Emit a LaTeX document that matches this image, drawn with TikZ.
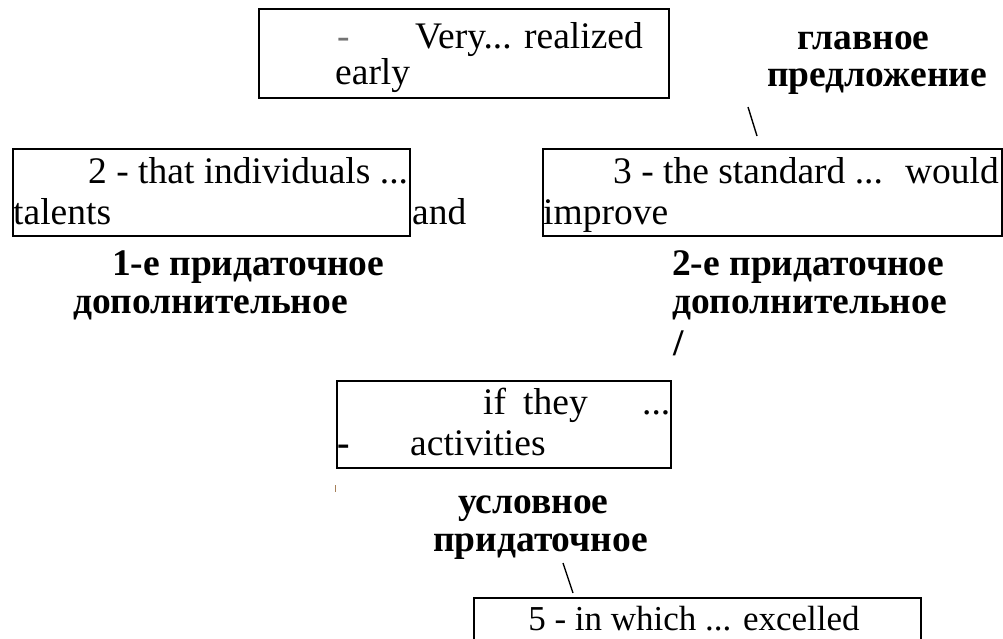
\documentclass[tikz,border=0pt]{standalone}
\usepackage{fontspec}
\setmainfont{Liberation Serif}
\tikzset{
  box/.style={draw, line width=2pt, anchor=north west, inner sep=0pt},
  txt/.style={anchor=base west, inner sep=0pt, font=\fontsize{37.5}{41}\selectfont},
  lbl/.style={anchor=base west, inner sep=0pt, font=\fontsize{37.5}{41}\selectfont\bfseries},
  slash/.style={line width=1.4pt}
}
\begin{document}
\begin{tikzpicture}[x=1pt,y=-1pt]
\useasboundingbox (0,0) rectangle (1003,639);
% boxes
\node[box, minimum width=410pt, minimum height=89pt] (b1) at (258,8) {};
\node[box, minimum width=397pt, minimum height=87pt] (b2) at (12,148) {};
\node[box, minimum width=459pt, minimum height=87pt] (b3) at (542,148) {};
\node[box, minimum width=334pt, minimum height=87pt] (b4) at (336,380) {};
\node[box, minimum width=447pt, minimum height=60pt] (b5) at (473,597) {};
% box 1 text
\node[txt, text=black!55] (t1a) at (337,49) {-};
\node[txt] (t1b) at (415,49) {Very... realized};
\node[txt] (t1c) at (335,85) {early};
% main clause label
\node[lbl] (l0a) at (797,50) {главное};
\node[lbl] (l0b) at (767,87) {предложение};
\coordinate (s1a) at (748,107);
\coordinate (s1b) at (757,136);
\draw[slash] (s1a) -- (s1b);
% box 2
\node[txt] (t2a) at (88,184) {2 - that individuals ...};
\node[txt] (t2b) at (13,224) {talents};
\node[txt] (t2c) at (412,224) {and};
% box 3
\node[txt] (t3a) at (613,184) {3 - the standard ...};
\node[txt, anchor=base east] (t3c) at (999,184) {would};
\node[txt] (t3b) at (543,224) {improve};
% labels
\node[lbl] (l1a) at (112,275) {1-е придаточное};
\node[lbl] (l1b) at (73,313) {дополнительное};
\node[lbl] (l2a) at (672,275) {2-е придаточное};
\node[lbl] (l2b) at (672,313) {дополнительное};
\node[lbl] (l2c) at (673,355) {/};
% box 4
\node[txt] (t4a) at (483,414) {if};
\node[txt] (t4b) at (523,414) {they};
\node[txt] (t4c) at (642,414) {...};
\node[lbl] (t4d) at (337,455) {-};
\node[txt] (t4e) at (410,455) {activities};
\coordinate (tk1) at (335,485);
\coordinate (tk2) at (335,492);
\draw[line width=1pt, color=brown!60!gray] (tk1) -- (tk2);
% conditional label
\node[lbl] (l3a) at (458,513) {условное};
\node[lbl] (l3b) at (433,551) {придаточное};
\coordinate (s2a) at (563,563);
\coordinate (s2b) at (573,593);
\draw[slash] (s2a) -- (s2b);
% box 5
\node[anchor=base, inner sep=0pt, font=\fontsize{35}{39}\selectfont] (t5a) at (694,630) {5 - in which ... excelled};
\end{tikzpicture}
\end{document}
